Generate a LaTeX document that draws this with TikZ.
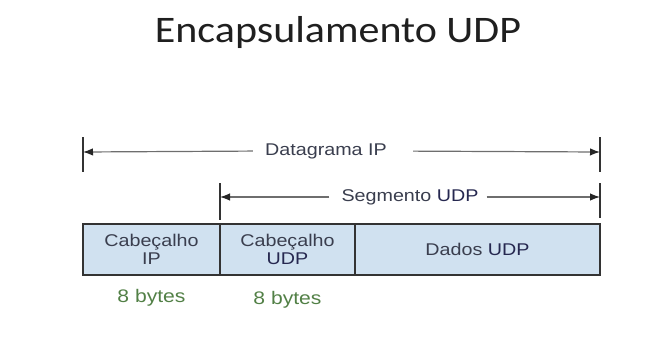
\documentclass[tikz,border=0pt]{standalone}
\usepackage{fontspec}
\setmainfont[FakeStretch=1.16]{Liberation Sans}
\newfontfamily\titlefont[FakeStretch=1.12]{Carlito}
\usetikzlibrary{positioning, arrows.meta}
\definecolor{txtgray}{RGB}{58,62,78}
\definecolor{udpblue}{RGB}{38,40,80}
\definecolor{bytegreen}{RGB}{82,128,70}
\definecolor{fieldfill}{RGB}{208,225,240}
\definecolor{rulegray}{RGB}{110,110,110}
\newcommand{\udp}{\textcolor{udpblue}{UDP}}

\begin{document}
\begin{tikzpicture}[x=1pt, y=-1pt, inner sep=0pt,
  field/.style={draw=black!80, line width=1.8pt, fill=fieldfill, outer sep=0pt, minimum height=51pt, align=center, text=txtgray, font=\fontsize{17}{17.5}\selectfont},
  size/.style={text=bytegreen, font=\fontsize{18.2}{20}\selectfont},
  span/.style={text=txtgray, font=\fontsize{17}{20}\selectfont},
  tick/.style={black!80, line width=2.4pt},
  dim/.style={rulegray, line width=1.2pt, -{Latex[length=10pt, width=7.5pt, black!85]}}]
  \useasboundingbox (0,0) rectangle (671,348);

  % title
  \node [font=\titlefont\fontsize{37.5}{45}\selectfont, text=black!88, anchor=base] (title) at (338,42) {Encapsulamento UDP};

  % fields
  \node [field, minimum width=137pt, anchor=north west] (iphdr) at (83,224) {Cabeçalho\\IP};
  \node [field, minimum width=135pt][right = 0pt of iphdr] (udphdr) {Cabeçalho\\\udp};
  \node [field, minimum width=245pt][right = 0pt of udphdr] (data) {Dados \udp};

  \node [size][below = 14pt of iphdr] (iplen) {8 bytes};
  \node [size][below = 16pt of udphdr] (udplen) {8 bytes};

  % spans
  \coordinate (dg-l) at (83,152);
  \coordinate (dg-r) at (600,152);
  \coordinate (sg-l) at (220,197);
  \coordinate (sg-r) at (600,197);

  \node [span] (dglabel) at (326,151) {Datagrama IP};
  \node [span] (sglabel) at (410,197) {Segmento \udp};

  \draw [tick] ([yshift=15pt]dg-l) -- ([yshift=-20pt]dg-l);
  \draw [tick] ([yshift=15pt]dg-r) -- ([yshift=-20pt]dg-r);
  \draw [tick] ([yshift=14pt]sg-l) -- ([yshift=-23pt]sg-l);
  \draw [tick] ([yshift=14pt]sg-r) -- ([yshift=-21pt]sg-r);

  % edges
  \draw [dim, shorten <= 12pt] (dglabel.west) -- (dg-l);
  \draw [dim, shorten <= 26pt] (dglabel.east) -- (dg-r);
  \draw [dim, shorten <= 12pt] (sglabel.west) -- (sg-l);
  \draw [dim, shorten <= 8pt] (sglabel.east) -- (sg-r);
\end{tikzpicture}
\end{document}
